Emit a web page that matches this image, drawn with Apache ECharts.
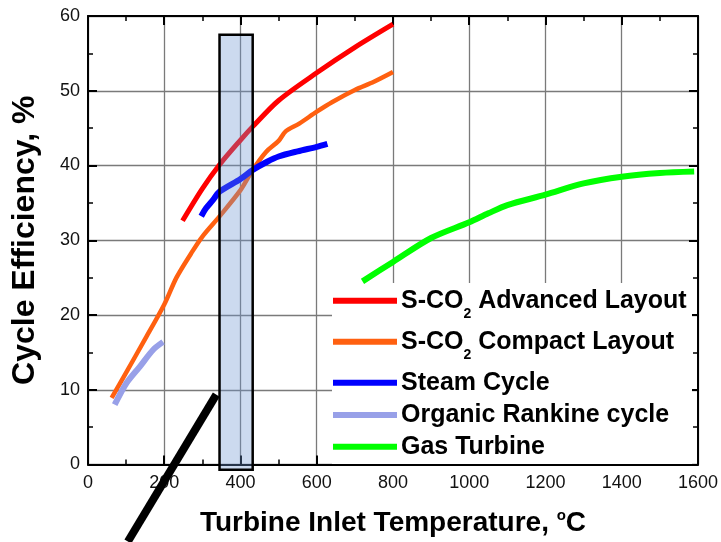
<!DOCTYPE html>
<html>
<head>
<meta charset="utf-8">
<script src="https://cdn.jsdelivr.net/npm/echarts@6/dist/echarts.min.js"></script>
<style>
html,body{margin:0;padding:0;background:#fff;}
#chart{width:721px;height:542px;}
</style>
</head>
<body>
<div id="chart"></div>
<script>
// ---- data ----
var seriesNames = ['S-CO2 Advanced Layout', 'S-CO2 Compact Layout', 'Steam Cycle', 'Organic Rankine cycle', 'Gas Turbine'];
var seriesColors = ['#ff0000', '#ff6010', '#0000ff', '#98a0e8', '#00ff00'];

var advX = [248, 300, 345, 400, 432, 500, 600, 700, 800];
var advY = [32.6, 36.9, 40.1, 43.4, 45.2, 48.7, 52.4, 55.8, 58.9];

var cmpX = [62, 100, 150, 200, 232, 270, 300, 345, 400, 432, 467, 500, 519, 554, 600, 641, 700, 750, 800];
var cmpY = [8.9, 12.3, 16.8, 21.4, 25.0, 28.2, 30.5, 33.2, 36.7, 39.4, 41.8, 43.3, 44.6, 45.6, 47.2, 48.5, 50.1, 51.2, 52.5];

var steamX = [297, 310, 328, 345, 400, 432, 470, 500, 550, 600, 628];
var steamY = [33.2, 34.3, 35.4, 36.5, 38.2, 39.4, 40.5, 41.2, 41.9, 42.5, 42.9];

var orcX = [70, 101, 136, 171, 197];
var orcY = [8.0, 10.9, 13.1, 15.35, 16.4];

var gasX = [720, 800, 900, 1000, 1050, 1100, 1200, 1300, 1400, 1500, 1590];
var gasY = [24.5, 27.1, 30.3, 32.4, 33.6, 34.7, 36.1, 37.6, 38.5, 39.0, 39.2];

// highlighted temperature band [xStart, xEnd, yBottom, yTop]
var bandX = [345, 432];
var bandY = [-0.7, 57.5];

// black slash line endpoints
var slashX = [104.6, 336.5];
var slashY = [-10.3, 9.35];

var xTicks = {min: 0, max: 1600, interval: 200};
var yTicks = {min: 0, max: 60, interval: 10};

// ---- build ----
function zip(xs, ys) { return xs.map(function (x, i) { return [x, ys[i]]; }); }

var FONT = 'Liberation Sans, Arial, sans-serif';
var chart = echarts.init(document.getElementById('chart'), null, {renderer: 'canvas'});

var seriesData = [zip(advX, advY), zip(cmpX, cmpY), zip(steamX, steamY), zip(orcX, orcY), zip(gasX, gasY)];
var lineWidths = [5, 4.5, 6, 6, 6];

var series = seriesNames.map(function (n, i) {
  return {
    name: n, type: 'line', data: seriesData[i], showSymbol: false, symbol: 'none',
    smooth: 0.3, lineStyle: {color: seriesColors[i], width: lineWidths[i], join: 'round'},
    itemStyle: {color: seriesColors[i]}, z: 2, animation: false
  };
});

series.push({
  name: 'band', type: 'custom', clip: false, z: 5, animation: false,
  data: [[bandX[0], bandX[1], bandY[0], bandY[1]]],
  renderItem: function (params, api) {
    var p1 = api.coord([api.value(0), api.value(3)]);
    var p2 = api.coord([api.value(1), api.value(2)]);
    return {
      type: 'rect',
      shape: {x: p1[0], y: p1[1], width: p2[0] - p1[0], height: p2[1] - p1[1]},
      style: {fill: 'rgba(110,150,210,0.35)', stroke: '#000', lineWidth: 2.5}
    };
  }
});

series.push({
  name: 'slash', type: 'line', clip: false, data: zip(slashX, slashY), showSymbol: false, symbol: 'none',
  lineStyle: {color: '#000', width: 8, cap: 'butt'}, z: 10, animation: false
});

var legendTops = [280.7, 321.7, 369.7, 402, 433.7];
var legends = seriesNames.map(function (n, i) {
  return {
    data: [n], orient: 'vertical', left: 333, top: legendTops[i], padding: 0,
    icon: 'rect', itemWidth: 64, itemHeight: 6, itemGap: 0, selectedMode: false,
    formatter: function (name) { return name.replace('CO2', 'CO{sub|2}'); },
    textStyle: {
      fontFamily: FONT, fontSize: 25, fontWeight: 'bold', color: '#000', lineHeight: 26, padding: [0, 0, 0, -1],
      rich: {sub: {fontFamily: FONT, fontSize: 14, fontWeight: 'bold', color: '#000', lineHeight: 14, padding: [26, 0, 0, 0]}}
    }
  };
});

var axisLineStyle = {color: '#000', width: 2};
function plain(v) { return String(v); }
function xAxisDef(pos, labels) {
  return {
    type: 'value', position: pos, min: xTicks.min, max: xTicks.max, interval: xTicks.interval,
    axisLine: {show: true, onZero: false, lineStyle: axisLineStyle},
    axisTick: {show: true, inside: true, length: 9, lineStyle: {color: '#000', width: 2}},
    minorTick: {show: true, splitNumber: 2, length: 5, lineStyle: {color: '#000', width: 1.5}},
    splitLine: {show: labels, lineStyle: {color: '#7a7a7a', width: 1.3}},
    axisLabel: {show: labels, fontFamily: FONT, fontSize: 18, color: '#111', margin: 10, formatter: plain},
    name: labels ? 'Turbine Inlet Temperature, {sup|o}C' : '',
    nameLocation: 'middle', nameGap: 44,
    nameTextStyle: {fontFamily: FONT, fontSize: 28, fontWeight: 'bold', color: '#000',
      rich: {sup: {fontFamily: FONT, fontSize: 15, fontWeight: 'bold', color: '#000', padding: [0, 0, 14, 0]}}}
  };
}
function yAxisDef(pos, labels) {
  return {
    type: 'value', position: pos, min: yTicks.min, max: yTicks.max, interval: yTicks.interval,
    axisLine: {show: true, onZero: false, lineStyle: axisLineStyle},
    axisTick: {show: true, inside: true, length: 9, lineStyle: {color: '#000', width: 2}},
    minorTick: {show: true, splitNumber: 2, length: 5, lineStyle: {color: '#000', width: 1.5}},
    splitLine: {show: labels, lineStyle: {color: '#7a7a7a', width: 1.3}},
    axisLabel: {show: labels, fontFamily: FONT, fontSize: 18, color: '#111', margin: 8, formatter: plain},
    name: labels ? 'Cycle Efficiency, %' : '',
    nameLocation: 'middle', nameGap: 47, nameRotate: 90,
    nameTextStyle: {fontFamily: FONT, fontSize: 32, fontWeight: 'bold', color: '#000'}
  };
}

var option = {
  backgroundColor: '#fff',
  animation: false,
  grid: {left: 88, right: 21, top: 16, bottom: 77, containLabel: false},
  xAxis: [xAxisDef('bottom', true), xAxisDef('top', false)],
  yAxis: [yAxisDef('left', true), yAxisDef('right', false)],
  legend: legends,
  graphic: [{
    type: 'rect', z: 1, silent: true,
    shape: {x: 332, y: 283, width: 360, height: 181},
    style: {fill: '#fff'}
  }],
  series: series
};
chart.setOption(option);
</script>
</body>
</html>
